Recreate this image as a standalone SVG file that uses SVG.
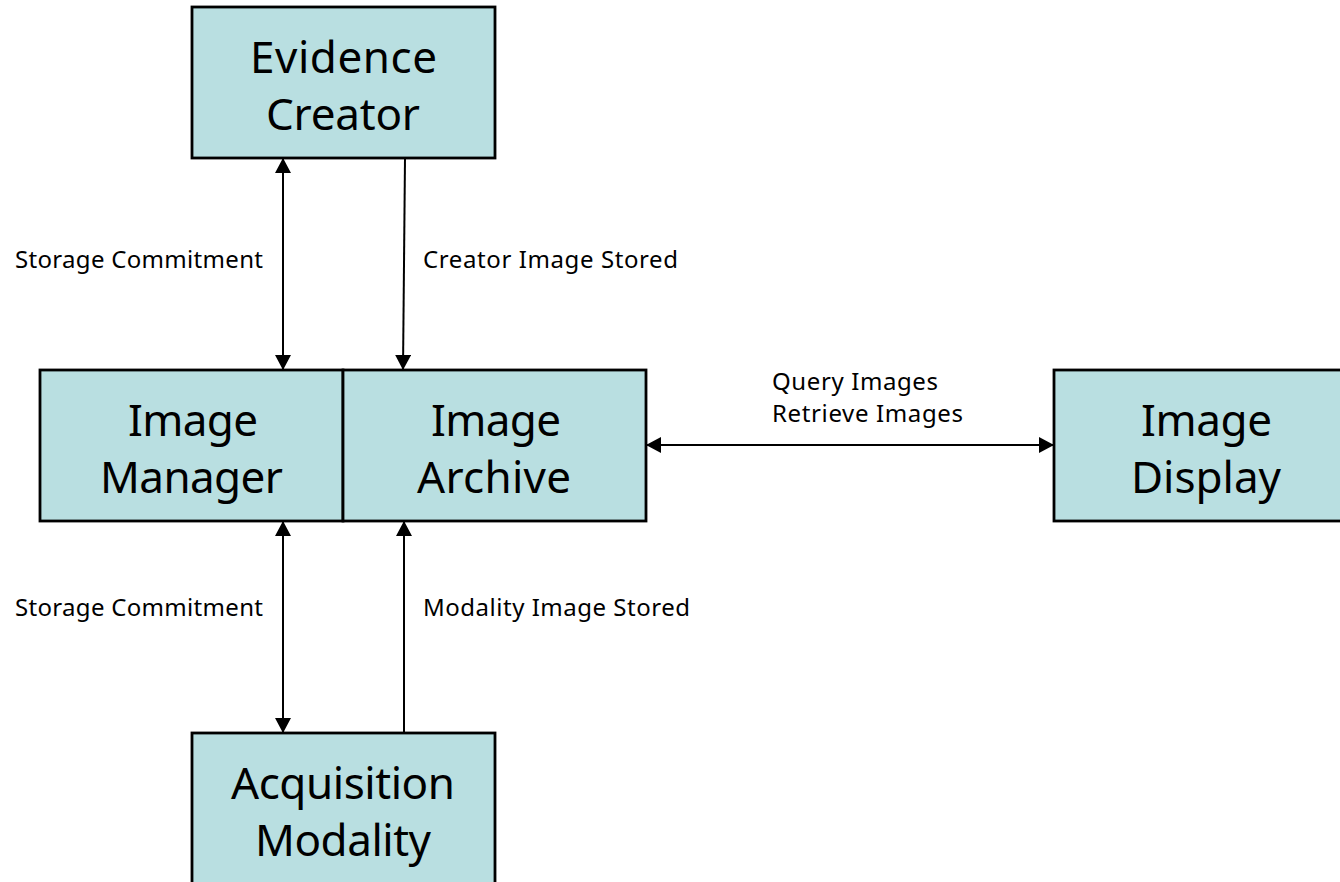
<svg xmlns="http://www.w3.org/2000/svg" width="1340" height="882" viewBox="0 0 1340 882">
<style>
.n{fill:#b9dfe1;stroke:#000;stroke-width:2.8}
.t{font-family:"Noto Sans","Open Sans",sans-serif;font-size:44px;fill:#000}
.l{font-family:"Noto Sans","Open Sans",sans-serif;font-size:24px;fill:#000}
.c{stroke:#000;stroke-width:2;fill:none}
</style>
<defs>
<marker id="a" viewBox="0 0 15 16" refX="15" refY="8" markerUnits="userSpaceOnUse" markerWidth="15" markerHeight="16" orient="auto-start-reverse"><path d="M0 0L15 8L0 16Z" fill="#000"/></marker>
</defs>
<rect width="1340" height="882" fill="#fff"/>
<g id="evidence-creator"><rect class="n" x="192" y="7" width="303" height="151"/><text class="t" x="250" y="73" textLength="187">Evidence</text><text class="t" x="266" y="130" textLength="154">Creator</text></g>
<g id="image-manager"><rect class="n" x="40" y="370" width="303" height="151"/><text class="t" x="128" y="436" textLength="130">Image</text><text class="t" x="100" y="493" textLength="183">Manager</text></g>
<g id="image-archive"><rect class="n" x="343" y="370" width="303" height="151"/><text class="t" x="431" y="436" textLength="130">Image</text><text class="t" x="417" y="493" textLength="154">Archive</text></g>
<g id="image-display"><rect class="n" x="1054" y="370" width="303" height="151"/><text class="t" x="1141" y="436" textLength="131">Image</text><text class="t" x="1131" y="493" textLength="150">Display</text></g>
<g id="acquisition-modality"><rect class="n" x="192" y="733" width="303" height="151"/><text class="t" x="231" y="799" textLength="224">Acquisition</text><text class="t" x="255" y="856" textLength="176">Modality</text></g>
<g id="connectors">
<line class="c" x1="283" y1="158" x2="283" y2="370" marker-start="url(#a)" marker-end="url(#a)"/>
<line class="c" x1="405" y1="158" x2="403" y2="370" marker-end="url(#a)"/>
<line class="c" x1="283" y1="521" x2="283" y2="733" marker-start="url(#a)" marker-end="url(#a)"/>
<line class="c" x1="404" y1="733" x2="404" y2="521" marker-end="url(#a)"/>
<line class="c" x1="646" y1="445" x2="1054" y2="445" marker-start="url(#a)" marker-end="url(#a)"/>
</g>
<g id="labels">
<text class="l" x="15" y="268" textLength="248">Storage Commitment</text>
<text class="l" x="423" y="268" textLength="255">Creator Image Stored</text>
<text class="l" x="772" y="390" textLength="166">Query Images</text>
<text class="l" x="772" y="422" textLength="191">Retrieve Images</text>
<text class="l" x="15" y="616" textLength="248">Storage Commitment</text>
<text class="l" x="423" y="616" textLength="267">Modality Image Stored</text>
</g>
</svg>
